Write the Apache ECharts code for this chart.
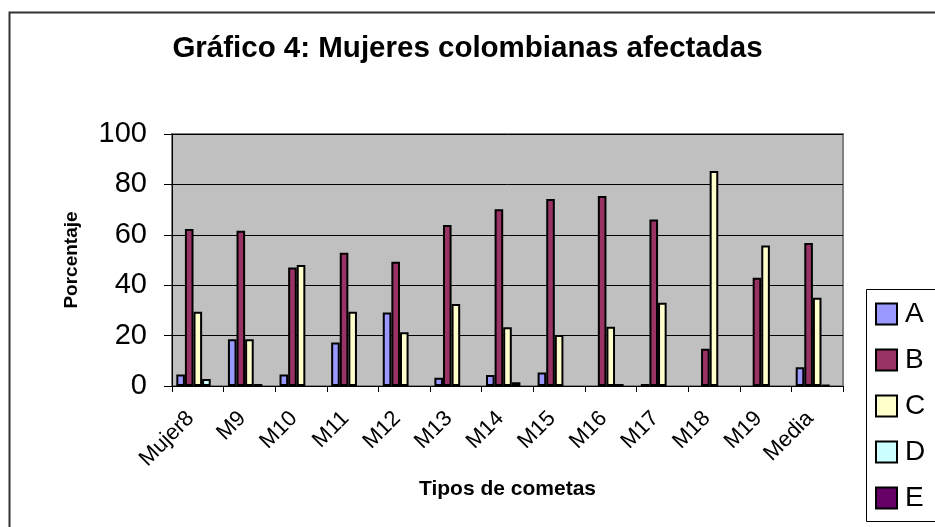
<!DOCTYPE html>
<html>
<head>
<meta charset="utf-8">
<script src="https://cdn.jsdelivr.net/npm/echarts@6/dist/echarts.min.js"></script>
<style>
html,body{margin:0;padding:0;background:#fff;}
#c{width:935px;height:527px;}
</style>
</head>
<body>
<div id="c"></div>
<script>
const categories = ['Mujer8','M9','M10','M11','M12','M13','M14','M15','M16','M17','M18','M19','Media'];
const seriesNames = ['A','B','C','D','E'];
const valuesA = [4.6, 18.6, 4.6, 17.3, 29.2, 3.3, 4.4, 5.4, null, 0.8, null, null, 7.4];
const valuesB = [62.3, 61.6, 47.0, 52.9, 49.3, 63.9, 70.1, 74.2, 75.4, 66.1, 14.8, 43.0, 56.7];
const valuesC = [29.5, 18.6, 48.0, 29.5, 21.3, 32.5, 23.3, 20.2, 23.5, 33.0, 85.3, 55.8, 35.0];
const valuesD = [2.8, 0.8, null, null, null, null, 1.5, null, 0.8, null, null, null, 0.3];
const valuesE = [null, null, null, null, null, null, null, null, null, null, null, null, null];
const yTicks = [0, 20, 40, 60, 80, 100];

const colors = ['#9999FF', '#993366', '#FFFFCC', '#CCFFFF', '#660066'];
const allValues = [valuesA, valuesB, valuesC, valuesD, valuesE];
const FONT = '"Liberation Sans", Arial, sans-serif';

const chart = echarts.init(document.getElementById('c'), null, {renderer: 'canvas'});
chart.setOption({
  animation: false,
  backgroundColor: '#ffffff',
  textStyle: {fontFamily: FONT},
  graphic: [
    {type: 'rect', shape: {x: 9.5, y: 12.5, width: 1000, height: 1000}, style: {fill: 'none', stroke: '#333', lineWidth: 2}, z: -10},
    {type: 'rect', shape: {x: 866.5, y: 289.5, width: 100, height: 232}, style: {fill: '#fff', stroke: '#000', lineWidth: 1}, z: 1}
  ],
  title: {
    text: 'Gráfico 4: Mujeres colombianas afectadas',
    left: 'center',
    top: 29,
    textStyle: {fontFamily: FONT, fontSize: 29.5, fontWeight: 'bold', color: '#000'}
  },
  legend: {
    orient: 'vertical',
    left: 875,
    top: 300,
    padding: 0,
    itemWidth: 21,
    itemHeight: 21,
    itemGap: 18,
    icon: 'rect',
    z: 5,
    textStyle: {fontFamily: FONT, fontSize: 28, lineHeight: 28, color: '#000', padding: [0, 0, 0, 3]},
    data: seriesNames
  },
  grid: {
    left: 172, right: 92, top: 134, bottom: 141,
    show: true,
    backgroundColor: '#C0C0C0',
    borderColor: '#808080',
    borderWidth: 2
  },
  xAxis: {
    type: 'category',
    data: categories,
    name: 'Tipos de cometas',
    nameLocation: 'middle',
    nameGap: 93,
    nameTextStyle: {fontFamily: FONT, fontSize: 21, fontWeight: 'bold', color: '#000'},
    axisLine: {show: true, lineStyle: {color: '#000', width: 1}},
    axisTick: {show: true, alignWithLabel: false, length: 6, lineStyle: {color: '#000'}},
    axisLabel: {rotate: 45, fontFamily: FONT, fontSize: 22, color: '#000', margin: 22, interval: 0,
      padding: [0, 10, 0, 0]},
    splitLine: {show: false}
  },
  yAxis: {
    type: 'value',
    min: 0, max: 100, interval: 20,
    name: 'Porcentaje',
    nameLocation: 'middle',
    nameGap: 91,
    nameTextStyle: {fontFamily: FONT, fontSize: 19, fontWeight: 'bold', color: '#000'},
    axisLine: {show: true, lineStyle: {color: '#000', width: 1}},
    axisTick: {show: true, length: 8, lineStyle: {color: '#000'}},
    axisLabel: {fontFamily: FONT, fontSize: 29, color: '#000', margin: 25,
      formatter: function (v) { return yTicks.indexOf(v) >= 0 ? String(v) : ''; }},
    splitLine: {show: true, lineStyle: {color: '#000', width: 1}}
  },
  series: seriesNames.map(function (n, i) {
    return {
      name: n,
      type: 'bar',
      data: allValues[i],
      barWidth: 8.6,
      barGap: '0%',
      itemStyle: {color: colors[i], borderColor: '#000', borderWidth: 2}
    };
  })
});
</script>
</body>
</html>
